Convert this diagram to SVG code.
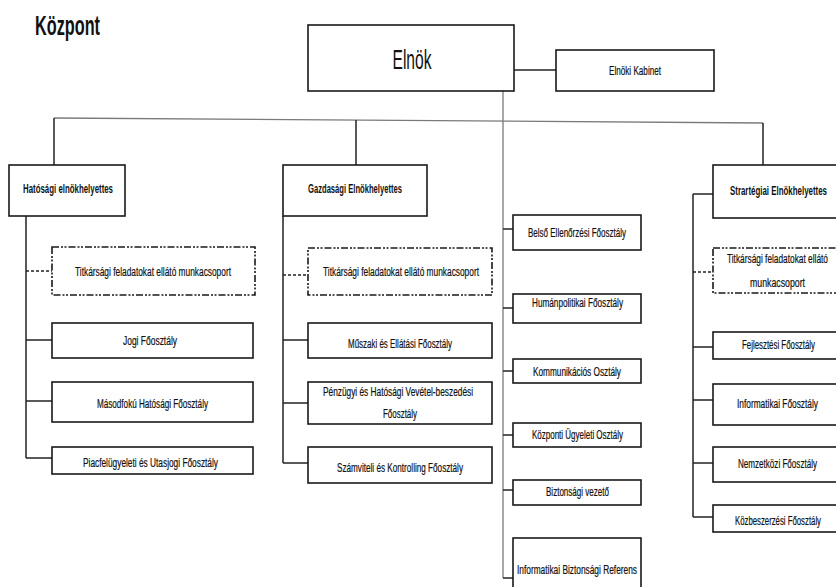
<svg xmlns="http://www.w3.org/2000/svg" width="836" height="587" viewBox="0 0 836 587">
<style>
.box{fill:#fff;stroke:#1a1a1a;stroke-width:1.6}
.dbox{fill:#fff;stroke:#1a1a1a;stroke-width:1.6;stroke-dasharray:7 2 2 1.5 2 2}
.ln{stroke:#222;stroke-width:1.5;fill:none}
.dl{stroke:#222;stroke-width:1.5;fill:none;stroke-dasharray:3 2}
.gl{stroke:#7a7a7a;stroke-width:1.3;fill:none}
text{font-family:"Liberation Sans",Arial,sans-serif;fill:#111;text-anchor:middle}
.t{font-size:12px;stroke:#111;stroke-width:0.2}
.h{font-size:12px;font-weight:bold}
</style>
<rect width="836" height="587" fill="#fff"/>
<text x="67.5" y="35" font-size="27" font-weight="bold" textLength="65" lengthAdjust="spacingAndGlyphs">Központ</text>
<g id="connectors">
<line class="ln" x1="514" y1="70" x2="556" y2="70"/>
<line class="gl" x1="54" y1="118" x2="763" y2="123"/>
<line class="ln" x1="54" y1="118" x2="54" y2="165"/>
<line class="ln" x1="356" y1="120" x2="356" y2="165"/>
<line class="ln" x1="763" y1="123" x2="763" y2="165"/>
<line class="gl" x1="503" y1="91" x2="503" y2="578"/>
<line class="ln" x1="26" y1="216" x2="26" y2="458"/>
<line class="dl" x1="26" y1="271" x2="52" y2="271"/>
<line class="ln" x1="26" y1="340" x2="52" y2="340"/>
<line class="ln" x1="26" y1="401" x2="52" y2="401"/>
<line class="ln" x1="26" y1="458" x2="52" y2="458"/>
<line class="ln" x1="283" y1="216" x2="283" y2="463"/>
<line class="dl" x1="283" y1="275" x2="308" y2="275"/>
<line class="ln" x1="283" y1="340" x2="308" y2="340"/>
<line class="ln" x1="283" y1="403" x2="308" y2="403"/>
<line class="ln" x1="283" y1="463" x2="308" y2="463"/>
<line class="ln" x1="503" y1="229" x2="513" y2="229"/>
<line class="ln" x1="503" y1="308" x2="513" y2="308"/>
<line class="ln" x1="503" y1="371" x2="513" y2="371"/>
<line class="ln" x1="503" y1="435" x2="513" y2="435"/>
<line class="ln" x1="503" y1="490" x2="513" y2="490"/>
<line class="ln" x1="503" y1="578" x2="513" y2="578"/>
<line class="ln" x1="693" y1="194" x2="693" y2="517"/>
<line class="ln" x1="693" y1="194" x2="713" y2="194"/>
<line class="dl" x1="693" y1="272" x2="713" y2="272"/>
<line class="ln" x1="693" y1="347" x2="713" y2="347"/>
<line class="ln" x1="693" y1="400" x2="713" y2="400"/>
<line class="ln" x1="693" y1="463" x2="713" y2="463"/>
<line class="ln" x1="693" y1="517" x2="713" y2="517"/>
</g>
<g id="elnok"><rect class="box" x="308" y="25" width="206" height="66"/><text x="412" y="69" font-size="28" textLength="39" lengthAdjust="spacingAndGlyphs">Elnök</text></g>
<g id="kabinet"><rect class="box" x="556" y="50" width="158" height="41"/><text class="t" x="635" y="75" textLength="52" lengthAdjust="spacingAndGlyphs">Elnöki Kabinet</text></g>
<g id="hatosagi"><rect class="box" x="9" y="165" width="116" height="51"/><text class="h" x="68" y="193" textLength="90" lengthAdjust="spacingAndGlyphs">Hatósági elnökhelyettes</text></g>
<g id="gazdasagi"><rect class="box" x="283" y="165" width="144" height="51"/><text class="h" x="355" y="193" textLength="94" lengthAdjust="spacingAndGlyphs">Gazdasági Elnökhelyettes</text></g>
<g id="strategiai"><rect class="box" x="713" y="165" width="124" height="53"/><text class="h" x="778.5" y="195" textLength="97" lengthAdjust="spacingAndGlyphs">Strartégiai Elnökhelyettes</text></g>
<g id="l-titk"><rect class="dbox" x="52" y="247" width="203" height="48"/><text class="t" x="153" y="276" textLength="156" lengthAdjust="spacingAndGlyphs">Titkársági feladatokat ellátó munkacsoport</text></g>
<g id="l-jogi"><rect class="box" x="52" y="323" width="201" height="35"/><text class="t" x="150" y="345" textLength="54" lengthAdjust="spacingAndGlyphs">Jogi Főosztály</text></g>
<g id="l-masodfoku"><rect class="box" x="52" y="382" width="201" height="40"/><text class="t" x="152.5" y="408" textLength="111" lengthAdjust="spacingAndGlyphs">Másodfokú Hatósági Főosztály</text></g>
<g id="l-piac"><rect class="box" x="52" y="447" width="201" height="27"/><text class="t" x="150.5" y="467" textLength="135" lengthAdjust="spacingAndGlyphs">Piacfelügyeleti és Utasjogi Főosztály</text></g>
<g id="m-titk"><rect class="dbox" x="308" y="248" width="184" height="47"/><text class="t" x="401" y="276" textLength="156" lengthAdjust="spacingAndGlyphs">Titkársági feladatokat ellátó munkacsoport</text></g>
<g id="m-muszaki"><rect class="box" x="308" y="323" width="184" height="35"/><text class="t" x="400" y="348" textLength="104" lengthAdjust="spacingAndGlyphs">Műszaki és Ellátási Főosztály</text></g>
<g id="m-penzugyi"><rect class="box" x="308" y="382" width="184" height="42"/><text class="t" x="398" y="396" textLength="150" lengthAdjust="spacingAndGlyphs">Pénzügyi és Hatósági Vevétel-beszedési</text><text class="t" x="400" y="418" textLength="34" lengthAdjust="spacingAndGlyphs">Főosztály</text></g>
<g id="m-szamviteli"><rect class="box" x="308" y="447" width="184" height="36"/><text class="t" x="400" y="472" textLength="126" lengthAdjust="spacingAndGlyphs">Számviteli és Kontrolling Főosztály</text></g>
<g id="c-belso"><rect class="box" x="513" y="215" width="128" height="35"/><text class="t" x="577" y="237" textLength="98" lengthAdjust="spacingAndGlyphs">Belső Ellenőrzési Főosztály</text></g>
<g id="c-human"><rect class="box" x="513" y="294" width="128" height="29"/><text class="t" x="577.5" y="307" textLength="91" lengthAdjust="spacingAndGlyphs">Humánpolitikai Főosztály</text></g>
<g id="c-komm"><rect class="box" x="513" y="359" width="128" height="24"/><text class="t" x="577" y="376" textLength="88" lengthAdjust="spacingAndGlyphs">Kommunikációs Osztály</text></g>
<g id="c-kozponti"><rect class="box" x="513" y="423" width="128" height="24"/><text class="t" x="577.5" y="439" textLength="91" lengthAdjust="spacingAndGlyphs">Központi Ügyeleti Osztály</text></g>
<g id="c-bizt"><rect class="box" x="513" y="480" width="128" height="25"/><text class="t" x="577.5" y="496" textLength="63" lengthAdjust="spacingAndGlyphs">Biztonsági vezető</text></g>
<g id="c-infobizt"><rect class="box" x="513" y="538" width="128" height="50"/><text class="t" x="577" y="574" textLength="120" lengthAdjust="spacingAndGlyphs">Informatikai Biztonsági Referens</text></g>
<g id="r-titk"><rect class="dbox" x="713" y="248" width="124" height="45"/><text class="t" x="777.5" y="263" textLength="101" lengthAdjust="spacingAndGlyphs">Titkársági feladatokat ellátó</text><text class="t" x="777.5" y="287" textLength="55" lengthAdjust="spacingAndGlyphs">munkacsoport</text></g>
<g id="r-fejl"><rect class="box" x="713" y="332" width="124" height="27"/><text class="t" x="778.5" y="349" textLength="73" lengthAdjust="spacingAndGlyphs">Fejlesztési Főosztály</text></g>
<g id="r-info"><rect class="box" x="713" y="384" width="124" height="41"/><text class="t" x="777.5" y="408" textLength="81" lengthAdjust="spacingAndGlyphs">Informatikai Főosztály</text></g>
<g id="r-nemz"><rect class="box" x="713" y="447" width="124" height="35"/><text class="t" x="777.5" y="468" textLength="79" lengthAdjust="spacingAndGlyphs">Nemzetközi Főosztály</text></g>
<g id="r-kozb"><rect class="box" x="713" y="505" width="124" height="27"/><text class="t" x="778" y="525" textLength="86" lengthAdjust="spacingAndGlyphs">Közbeszerzési Főosztály</text></g>
</svg>
